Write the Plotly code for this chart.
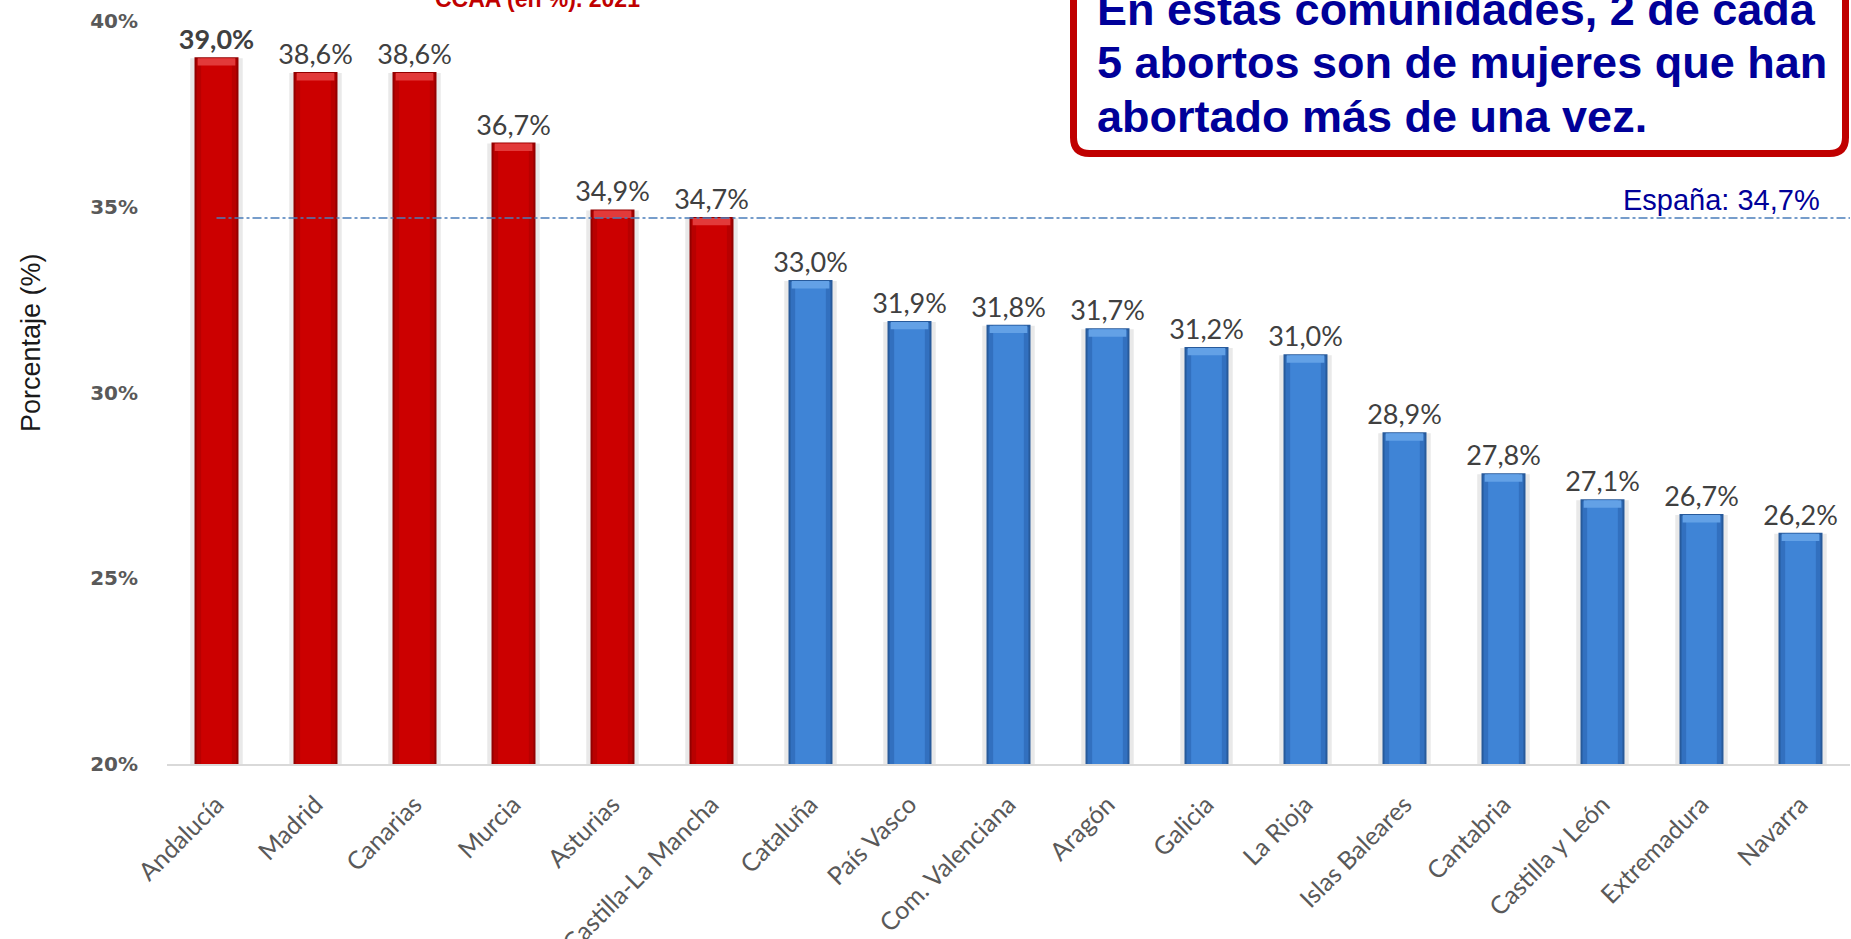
import plotly.graph_objects as go

# ---- data ----
regions = ["Andalucía", "Madrid", "Canarias", "Murcia", "Asturias", "Castilla-La Mancha",
           "Cataluña", "País Vasco", "Com. Valenciana", "Aragón", "Galicia", "La Rioja",
           "Islas Baleares", "Cantabria", "Castilla y León", "Extremadura", "Navarra"]
values = [39.0, 38.6, 38.6, 36.7, 34.9, 34.7, 33.0, 31.9, 31.8, 31.7, 31.2, 31.0,
          28.9, 27.8, 27.1, 26.7, 26.2]
spain_avg = 34.7
y_ticks = [20, 25, 30, 35, 40]
y_ticklabels = ["20%", "25%", "30%", "35%", "40%"]
box_lines = ["En estas comunidades, 2 de cada",
             "5 abortos son de mujeres que han",
             "abortado más de una vez."]
title_tail = "CCAA (en %). 2021"
y_title = "Porcentaje (%)"
spain_label = "España: 34,7%"

# ---- styling ----
above = [v >= spain_avg for v in values]
def pick(a, red, blue):
    return [red if x else blue for x in a]

base_col = pick(above, "#B80000", "#3270BF")
edge_col = pick(above, "#930000", "#275A9B")
inner_col = pick(above, "#CC0000", "#3F84D6")
cap_col = pick(above, "#E23A3A", "#63A1E6")
CAP = 0.2  # cap depth in axis units (visual highlight)

def fmt(v):
    return f"{v:.1f}".replace(".", ",") + "%"

labels = [fmt(v) for v in values]
labels[0] = "<b>" + labels[0] + "</b>"

# layout geometry (px)
W, H = 1851, 939
L, R, T, B = 167, 1, 21, 175
PW, PH = W - L - R, H - T - B

def px(x):
    return (x - L) / PW

def py(y):
    return (H - B - y) / PH

fig = go.Figure()

# soft shadow behind bars
fig.add_trace(go.Bar(x=regions, y=values, width=0.53,
                     marker=dict(color="#E9E9E9", line=dict(width=0)),
                     hoverinfo="skip", showlegend=False))
# main bars
fig.add_trace(go.Bar(x=regions, y=values, width=0.424,
                     marker=dict(color=base_col, line=dict(color=edge_col, width=2)),
                     text=labels, textposition="outside", constraintext="none",
                     cliponaxis=False,
                     textfont=dict(family="Lato, Carlito, sans-serif", size=27, color="#404040"),
                     showlegend=False))
# lighter core (cylinder look)
fig.add_trace(go.Bar(x=regions, y=values, width=0.31,
                     marker=dict(color=inner_col, line=dict(width=0)),
                     hoverinfo="skip", showlegend=False))
# light top cap
fig.add_trace(go.Bar(x=regions, y=[CAP] * len(values), base=[v - CAP for v in values],
                     width=0.38,
                     marker=dict(color=cap_col, line=dict(width=0)),
                     hoverinfo="skip", showlegend=False))

# Spain average reference line
fig.add_shape(type="line", xref="x", yref="y", x0=0, x1=len(regions) - 0.5,
              y0=spain_avg, y1=spain_avg,
              line=dict(color="#4A7EBB", width=1.5, dash="dashdot"))
fig.add_annotation(xref="paper", yref="y", x=px(1822), y=spain_avg,
                   xanchor="right", yanchor="bottom", showarrow=False,
                   text=spain_label,
                   font=dict(family="Liberation Sans, Arial", size=29, color="#000099"))

# rounded callout box
xl, xr, yb, yt = px(1073.5), px(1845.5), py(153.5), py(-30)
rx, ry = 16 / PW, 16 / PH
path = (f"M {xl},{yt} L {xl},{yb + ry} Q {xl},{yb} {xl + rx},{yb} "
        f"L {xr - rx},{yb} Q {xr},{yb} {xr},{yb + ry} L {xr},{yt} Z")
fig.add_shape(type="path", xref="paper", yref="paper", path=path,
              fillcolor="white", line=dict(color="#C00000", width=7), layer="above")
for line, ymid in zip(box_lines, [9.4, 62.4, 116.4]):
    fig.add_annotation(xref="paper", yref="paper", x=px(1095), y=py(ymid),
                       xanchor="left", yanchor="middle", showarrow=False,
                       text="<b>" + line + "</b>",
                       font=dict(family="Liberation Sans, Arial", size=45, color="#000099"))

# clipped title tail at top
fig.add_annotation(xref="paper", yref="paper", x=px(537), y=py(-1),
                   xanchor="center", yanchor="middle", showarrow=False,
                   text="<b>" + title_tail + "</b>",
                   font=dict(family="Liberation Sans, Arial", size=23, color="#C00000"))

# y axis title
fig.add_annotation(xref="paper", yref="paper", x=px(31), y=py(343),
                   xanchor="center", yanchor="middle", showarrow=False, textangle=-90,
                   text=y_title,
                   font=dict(family="Liberation Sans, Arial", size=27, color="#1A1A1A"))

fig.update_layout(
    width=W, height=H,
    margin=dict(l=L, r=R, t=T, b=B, autoexpand=False),
    barmode="overlay",
    plot_bgcolor="white", paper_bgcolor="white",
    showlegend=False,
    xaxis=dict(type="category", range=[-0.5, len(regions) - 0.5],
               tickangle=-45, showgrid=False, zeroline=False,
               showline=True, linecolor="#D9D9D9", linewidth=2,
               ticks="", ticklabelstandoff=14,
               tickfont=dict(family="Lato, Carlito, sans-serif", size=25, color="#595959")),
    yaxis=dict(range=[20, 40], tickvals=y_ticks, ticktext=y_ticklabels,
               showgrid=False, zeroline=False, showline=False, ticks="",
               ticklabelstandoff=28,
               tickfont=dict(family="DejaVu Sans", size=20, color="#595959", weight="bold")),
)

fig.write_html("out.html", config={"displayModeBar": False},
               post_script="document.body.style.margin='0';document.body.style.overflow='hidden';")
